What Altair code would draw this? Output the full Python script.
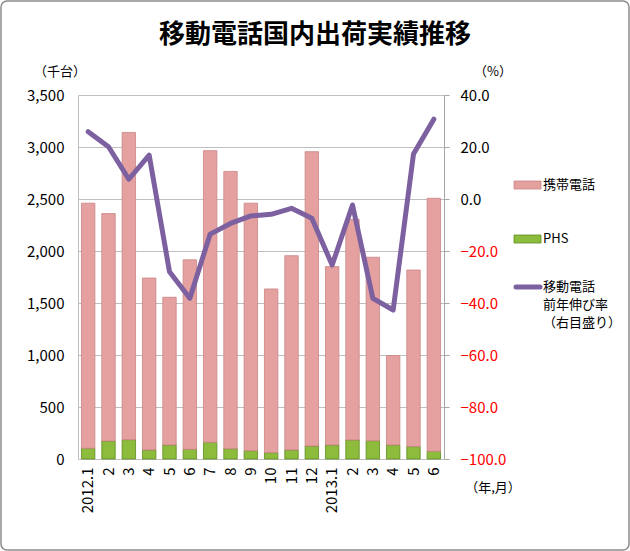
import altair as alt
import pandas as pd

# ---- data ----
month_labels = ["2012.1", "2", "3", "4", "5", "6", "7", "8", "9", "10", "11", "12",
                "2013.1", "2", "3", "4", "5", "6"]
totals = [2460, 2360, 3140, 1740, 1555, 1915, 2965, 2765, 2460, 1635, 1955, 2955,
          1850, 2305, 1940, 995, 1817, 2507]
phs = [103, 173, 186, 87, 135, 93, 160, 99, 80, 61, 87, 125,
       135, 183, 176, 135, 119, 74]
growth = [25.9, 20.1, 7.6, 16.9, -28.0, -38.2, -13.5, -9.4, -6.5, -5.9, -3.6, -7.4,
          -25.4, -2.3, -38.2, -42.7, 17.3, 30.7]
keitai = [t - p for t, p in zip(totals, phs)]

series_names = ["携帯電話", "PHS"]
series_colors = ["#E4A19F", "#8DBB3C"]

FONT = "Noto Sans CJK JP"
W, H = 366, 364
L, T = 78, 95

rows = []
for i in range(len(month_labels)):
    rows.append({"idx": i, "series": "PHS", "value": phs[i], "ord": 0})
    rows.append({"idx": i, "series": "携帯電話", "value": keitai[i], "ord": 1})
bars_df = pd.DataFrame(rows)
line_df = pd.DataFrame({"idx": list(range(len(month_labels))), "growth": growth})

label_expr = "[" + ",".join("'%s'" % s for s in month_labels) + "][datum.value]"

x_enc = alt.X("idx:O", scale=alt.Scale(paddingInner=0.34, paddingOuter=0.17),
              axis=alt.Axis(title=None, labelExpr=label_expr, labelAngle=270,
                            labelAlign="right", labelBaseline="middle",
                            labelPadding=8, ticks=False, domain=False,
                            labelFont=FONT, labelFontSize=15, labelColor="#000000"))

bars = alt.Chart(bars_df).mark_bar(strokeWidth=0.8).encode(
    x=x_enc,
    y=alt.Y("sum(value):Q", stack="zero",
            scale=alt.Scale(domain=[0, 3500], nice=False, zero=True),
            axis=alt.Axis(title=None, values=list(range(0, 3501, 500)), format=",d",
                          grid=True, gridColor="#BFBFBF", gridWidth=1,
                          ticks=False, labelPadding=14, domain=True,
                          domainColor="#BFBFBF", labelFont=FONT, labelFontSize=15,
                          labelColor="#000000")),
    color=alt.Color("series:N", scale=alt.Scale(domain=series_names, range=series_colors),
                    legend=None),
    stroke=alt.Stroke("series:N", scale=alt.Scale(domain=series_names,
                                                  range=["#C98585", "#5E8A20"]),
                      legend=None),
    order=alt.Order("ord:Q", sort="ascending"),
)

line = alt.Chart(line_df).mark_line(color="#7D60A0", strokeWidth=5,
                                     strokeJoin="round", strokeCap="round").encode(
    x=alt.X("idx:O"),
    y=alt.Y("growth:Q", scale=alt.Scale(domain=[-100, 40], nice=False, zero=False),
            axis=alt.Axis(title=None, orient="right", values=list(range(-100, 41, 20)),
                          format=".1f", grid=False, ticks=True, tickSize=5,
                          tickColor="#A6A6A6", domain=True, domainColor="#A6A6A6",
                          labelPadding=11, labelFont=FONT, labelFontSize=15,
                          labelColor={"condition": {"test": "datum.value < 0",
                                                    "value": "#FF0000"},
                                      "value": "#000000"})),
)

# ---- annotations ----
title_df = pd.DataFrame({"t": ["移動電話国内出荷実績推移"]})
title = alt.Chart(title_df).mark_text(font=FONT, fontSize=26, fontWeight="bold",
                                      color="#000000", align="center",
                                      baseline="middle").encode(
    x=alt.value(315 - L), y=alt.value(35 - T), text="t:N")

unit_df = pd.DataFrame({"t": ["（千台）", "（%）", "（年,月）"],
                        "px": [60 - L, 493 - L, 493 - L],
                        "py": [72 - T, 72 - T, 488 - T]})
units = alt.Chart(unit_df).mark_text(font=FONT, fontSize=13, color="#000000",
                                     align="center", baseline="middle").encode(
    x=alt.X("px:Q", scale=None), y=alt.Y("py:Q", scale=None), text="t:N")

leg_rect_df = pd.DataFrame({"series": series_names,
                            "y0": [181 - T, 235 - T], "y1": [189 - T, 243 - T]})
leg_rects = alt.Chart(leg_rect_df).mark_rect(strokeWidth=0.8).encode(
    x=alt.value(514 - L), x2=alt.value(541 - L),
    y=alt.Y("y0:Q", scale=None), y2="y1:Q",
    color=alt.Color("series:N", scale=alt.Scale(domain=series_names, range=series_colors),
                    legend=None),
    stroke=alt.Stroke("series:N", scale=alt.Scale(domain=series_names,
                                                  range=["#C98585", "#5E8A20"]),
                      legend=None),
)
leg_line = alt.Chart(pd.DataFrame({"a": [0]})).mark_rule(
    color="#7D60A0", strokeWidth=5, strokeCap="round").encode(
    x=alt.value(516 - L), x2=alt.value(540 - L), y=alt.value(287 - T))

leg_text_df = pd.DataFrame({"t": ["携帯電話", "PHS", "移動電話", "前年伸び率", "（右目盛り）"],
                            "py": [185 - T, 239 - T, 287 - T, 305 - T, 323 - T]})
leg_text = alt.Chart(leg_text_df).mark_text(font=FONT, fontSize=13, color="#000000",
                                            align="left", baseline="middle").encode(
    x=alt.value(543 - L), y=alt.Y("py:Q", scale=None), text="t:N")

border = alt.Chart(pd.DataFrame({"a": [0]})).mark_rect(
    fill="transparent", stroke="#8C8C8C", strokeWidth=1.5, cornerRadius=6).encode(
    x=alt.value(1 - L), x2=alt.value(629 - L), y=alt.value(1 - T), y2=alt.value(550 - T))

main = alt.layer(bars, line).resolve_scale(y="independent")

chart = alt.layer(main, title, units, leg_rects, leg_line, leg_text, border).properties(
    width=W, height=H,
    autosize=alt.AutoSizeParams(type="none"),
    padding={"left": L, "top": T, "right": 630 - L - W, "bottom": 551 - T - H},
    background="#FFFFFF",
).configure_view(stroke=None)

chart.save("out.html", embed_options={"renderer": "svg", "actions": False})
